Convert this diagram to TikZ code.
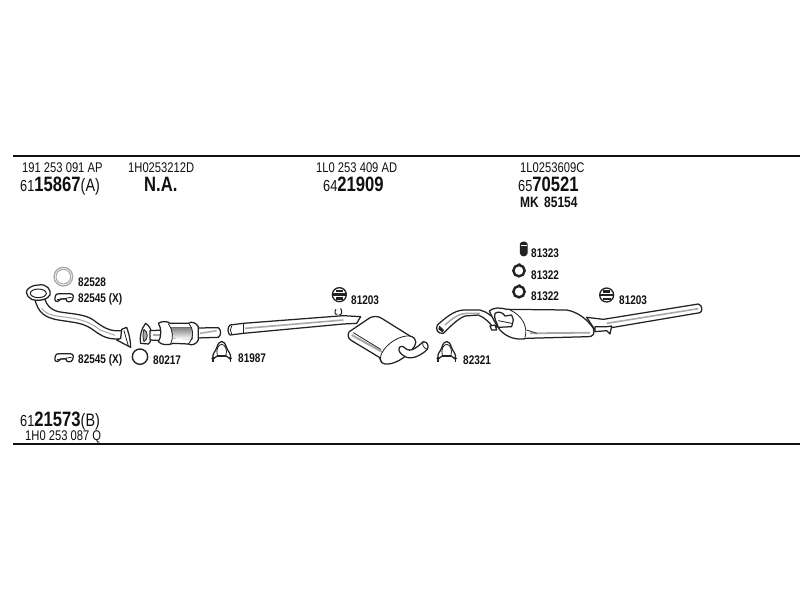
\documentclass[tikz,border=0pt]{standalone}
\usepackage{fontspec}
\setmainfont{Liberation Sans}
\newfontfamily\cond[FakeStretch=0.8]{Liberation Sans}
\definecolor{ink}{HTML}{111111}
\definecolor{part}{HTML}{222222}
\definecolor{shade}{HTML}{A8A8A8}
\newcommand{\bigd}[1]{{\bfseries\fontsize{20.8}{21}\selectfont #1}}
\newcommand{\parn}[1]{{\fontsize{18}{18}\selectfont #1}}
\newcommand{\hangerat}[1]{\begin{scope}[shift={#1}]
    \draw[ol] (-25,-1) .. controls (-25,-15) and (-15,-14) .. (-10,-14) -- (20,-14) .. controls (32,-14) and (32,-2) .. (28,4) (-25,-1) .. controls (-28,9) and (-18,13) .. (-12,6) -- (-8,2) -- (8,2) .. controls (8,13) and (24,13) .. (28,4);
    \draw[thin ol] (-18,4) -- (24,-3);
\end{scope}}
\newcommand{\clampat}[1]{\begin{scope}[shift={#1}]
    \draw[draw=part,line width=1.25pt,fill=white] (-26,12) .. controls (-30,-5) and (-18,-10) .. (-14,-24) .. controls (-8,-46) and (8,-46) .. (14,-24) .. controls (18,-10) and (30,-5) .. (26,12) -- (12,2) -- (-12,2) -- cycle;
    \draw[thin ol] (-13,0) .. controls (-18,-15) and (-10,-32) .. (0,-32) .. controls (10,-32) and (18,-15) .. (13,0);
    \fill[part] (-26,10) circle (5) (26,10) circle (5);
    \draw[draw=part,line width=1.2pt] (-26,12) -- (-26,22) (26,12) -- (26,22);
    \draw[draw=part,line width=1.2pt] (-14,4) -- (14,4);
\end{scope}}
\newcommand{\mountat}[1]{\begin{scope}[shift={#1}]
    \draw[draw=part,line width=1.3pt,fill=white] (0,0) circle (21);
    \fill[part] (-21,-4) rectangle (21,4);
    \fill[part] (-10,-14) rectangle (10,-7);
    \fill[part] (-10,8) rectangle (12,15);
\end{scope}}
\newcommand{\ringat}[1]{\begin{scope}[shift={#1}]
    \draw[draw=part,line width=2.4pt,fill=white] (0,0) circle (17);
    \fill[part] (-2,-22) -- (4,-22) -- (6,-14) -- (-2,-14) -- cycle;
\end{scope}}
\tikzset{
  txt/.style={anchor=base west,inner sep=0pt,text=ink,font=\cond\fontsize{14}{14}\selectfont},
  numt/.style={txt,font=\cond\fontsize{16}{16}\selectfont},
  lab/.style={anchor=base west,inner sep=0pt,text=ink,font=\cond\bfseries\fontsize{12.5}{13}\selectfont},
  ol/.style={draw=part,line width=1.25pt,fill=white,line join=round,line cap=round},
  thin ol/.style={draw=part,line width=.8pt,line join=round,line cap=round},
  rule/.style={draw=ink,line width=1.5pt}
}
\begin{document}
\begin{tikzpicture}[x=1pt,y=-1pt]
\useasboundingbox (0,0) rectangle (800,600);
\fill[white] (0,0) rectangle (800,600);

% rules
\coordinate (tl) at (13,156); \coordinate (tr) at (800,156);
\coordinate (bl) at (13,444); \coordinate (br) at (800,444);
\draw[rule] (tl) -- (tr);
\draw[rule] (bl) -- (br);

% header texts
\node[txt] (t1) at (22,172) {191 253 091 AP};
\node[txt] (t2) at (128,172) {1H0253212D};
\node[txt] (t3) at (316,172) {1L0 253 409 AD};
\node[txt] (t4) at (520,172) {1L0253609C};
\node[numt] (n1) at (20,191) {61\bigd{15867}\parn{(A)}};
\node[numt] (n2) at (144,191) {\bigd{N.A.}};
\node[numt] (n3) at (323,191) {64\bigd{21909}};
\node[numt] (n4) at (518,191) {65\bigd{70521}};
\node[txt,font=\cond\bfseries\fontsize{15}{15}\selectfont] (n5) at (520,207) {MK\hspace{2pt} 85154};
\node[numt] (n6) at (20,426) {61\bigd{21573}\parn{(B)}};
\node[txt] (t6) at (25,440) {1H0 253 087 Q};

% part labels
\node[lab] (l1) at (78,286) {82528};
\node[lab] (l2) at (78,302) {82545 (X)};
\node[lab] (l3) at (78,363) {82545 (X)};
\node[lab] (l4) at (153,364) {80217};
\node[lab] (l5) at (238,362) {81987};
\node[lab] (l6) at (351,304) {81203};
\node[lab] (l7) at (463,364) {82321};
\node[lab] (l8) at (531,257) {81323};
\node[lab] (l9) at (531,279) {81322};
\node[lab] (l10) at (531,300) {81322};
\node[lab] (l11) at (619,304) {81203};

% ---- left section, coordinates in the 3x crop at (0,240)
\begin{scope}[shift={(0,240)},scale=1/3]
  \draw[draw=shade,line width=1.3pt,fill=white] (190,110) circle (28);
  \draw[draw=shade,line width=1pt] (190,110) circle (22);
  \hangerat{(190,175)}
  \hangerat{(190,355)}
  \draw[draw=part,line width=1.4pt] (420,350) circle (23);
  % front pipe
  \draw[ol] (105,180) .. controls (115,215) and (130,232) .. (175,240) .. controls (225,248) and (250,248) .. (280,270) .. controls (300,285) and (315,295) .. (345,297) -- (375,298) -- (372,272) -- (345,272) .. controls (320,270) and (300,255) .. (280,240) .. controls (255,222) and (215,222) .. (175,215) .. controls (150,208) and (140,195) .. (135,178) -- cycle;
  \draw[draw=shade,line width=1pt] (125,205) .. controls (140,225) and (165,228) .. (200,232) .. controls (250,238) and (275,250) .. (300,270) -- (345,286);
  \draw[ol] (115,135) .. controls (140,130) and (155,150) .. (150,165) .. controls (145,178) and (115,185) .. (95,178) .. controls (75,165) and (75,150) .. (90,142) .. controls (98,137) and (105,135) .. (115,135) -- cycle;
  \draw[draw=part,line width=1pt] (115,160) ellipse (24 and 13);
  \draw[ol] (365,268) -- (380,262) .. controls (385,275) and (392,300) .. (392,322) -- (350,300) -- (362,295) -- cycle;
  \draw[thin ol] (372,272) -- (385,318);
  % catalyst
  \draw[ol] (437,250) .. controls (425,265) and (418,285) .. (422,310) -- (445,312) .. controls (460,300) and (460,265) .. (437,250) -- cycle;
  \draw[thin ol,fill=shade] (432,268) .. controls (428,280) and (428,295) .. (432,305) .. controls (445,298) and (445,275) .. (432,268) -- cycle;
  \draw[ol] (450,272) -- (490,270) -- (490,302) -- (450,300) -- cycle;
  \draw[draw=shade,line width=2pt] (460,286) -- (488,286);
  \draw[ol] (590,264) -- (655,263) .. controls (664,270) and (664,285) .. (655,292) -- (590,294) -- cycle;
  \draw[draw=shade,line width=1.5pt] (600,280) -- (650,272);
  \draw[ol] (475,250) .. controls (485,242) and (505,244) .. (510,250) -- (565,250) .. controls (575,242) and (590,250) .. (595,260) -- (595,300) .. controls (590,312) and (575,318) .. (565,312) -- (520,310) .. controls (505,316) and (485,316) .. (475,305) .. controls (485,290) and (485,265) .. (475,250) -- cycle;
  \fill[shade] (512,262) -- (575,262) -- (578,298) -- (520,296) -- cycle;
  \draw[thin ol] (505,252) .. controls (520,270) and (520,295) .. (512,312);
  \draw[thin ol] (565,250) .. controls (582,265) and (582,295) .. (565,312);
  \clampat{(665,345)}
\end{scope}

% ---- middle section, crop at (210,270)
\begin{scope}[shift={(210,270)},scale=1/3]
  \mountat{(388,74)}
  \draw[ol] (60,165) -- (100,160) -- (400,137) -- (452,140) -- (440,160) -- (400,162) -- (100,190) -- (60,195) .. controls (52,188) and (52,172) .. (60,165) -- cycle;
  \draw[draw=part,line width=1pt] (100,160) -- (100,190);
  \draw[draw=shade,line width=1.6pt] (105,175) -- (400,150);
  \draw[thin ol] (65,168) .. controls (60,175) and (60,185) .. (65,192);
  \draw[draw=part,line width=1pt] (378,118) .. controls (372,125) and (375,135) .. (382,133) (392,115) .. controls (398,125) and (395,135) .. (388,135);
  % muffler
  \draw[ol] (418,185) -- (480,143) .. controls (490,138) and (505,138) .. (515,145) -- (600,198) .. controls (625,205) and (620,225) .. (605,240) .. controls (585,265) and (550,285) .. (525,282) .. controls (515,280) and (510,272) .. (508,262) -- (425,212) .. controls (412,205) and (412,192) .. (418,185) -- cycle;
  \draw[thin ol] (600,198) .. controls (570,195) and (530,220) .. (515,250) .. controls (510,262) and (510,272) .. (515,278);
  \draw[draw=shade,line width=2pt] (425,195) -- (515,245);
  \draw[thin ol] (430,188) -- (512,238);
  \draw[ol] (568,232) .. controls (575,225) and (585,232) .. (590,238) .. controls (600,245) and (615,238) .. (640,215) .. controls (652,215) and (658,228) .. (652,238) .. controls (635,255) and (610,268) .. (590,262) .. controls (575,255) and (562,245) .. (568,232) -- cycle;
  \draw[thin ol] (640,215) .. controls (635,222) and (640,235) .. (652,238);
\end{scope}

% ---- right section, crop at (430,230)
\begin{scope}[shift={(430,230)},scale=1/3]
  \clampat{(50,375)}
  % barrel bush
  \draw[draw=part,line width=1pt,fill=part] (271,42) .. controls (275,34) and (288,34) .. (291,42) -- (291,70) .. controls (288,80) and (275,80) .. (271,70) -- cycle;
  \draw[draw=white,line width=.8pt] (272,45) -- (290,45);
  \ringat{(267,122)}
  \ringat{(267,185)}
  \mountat{(530,195)}
  % inlet pipe
  \draw[ol] (22,285) .. controls (45,265) and (70,242) .. (100,240) -- (150,240) .. controls (170,245) and (190,260) .. (205,280) -- (195,298) .. controls (180,280) and (165,262) .. (145,255) -- (105,258) .. controls (85,265) and (60,290) .. (40,310) .. controls (25,312) and (15,300) .. (22,285) -- cycle;
  \fill[part] (28,287) -- (42,300) -- (38,307) -- (25,298) -- cycle;
  \draw[draw=shade,line width=1.5pt] (45,285) .. controls (70,262) and (90,250) .. (110,250) -- (150,250);
  % tail pipe
  \draw[ol] (470,262) -- (520,268) -- (805,222) .. controls (818,225) and (818,245) .. (810,248) -- (550,292) -- (495,300) -- cycle;
  \draw[draw=shade,line width=1.6pt] (530,280) -- (805,236);
  \draw[ol] (495,290) -- (530,290) -- (545,288) -- (540,312) -- (530,302) -- (495,305) -- cycle;
  % muffler
  \draw[ol] (178,243) .. controls (190,232) and (210,232) .. (230,238) -- (410,240) .. controls (440,245) and (470,265) .. (490,295) .. controls (495,310) and (490,320) .. (475,320) -- (290,325) .. controls (260,332) and (230,322) .. (210,300) .. controls (195,280) and (185,258) .. (178,243) -- cycle;
  \draw[thin ol] (240,240) .. controls (275,255) and (295,290) .. (285,322);
  \draw[draw=shade,line width=1.8pt] (300,310) -- (480,308);
  \draw[thin ol] (290,300) -- (320,310);
  \draw[ol] (195,250) .. controls (205,242) and (220,248) .. (225,258) -- (245,255) -- (250,270) -- (245,290) -- (205,292) .. controls (200,275) and (190,265) .. (195,250) -- cycle;
  \draw[thin ol] (205,272) -- (245,280);
  \draw[ol] (180,288) -- (195,285) -- (200,300) -- (185,300) -- cycle;
\end{scope}
\end{tikzpicture}
\end{document}
